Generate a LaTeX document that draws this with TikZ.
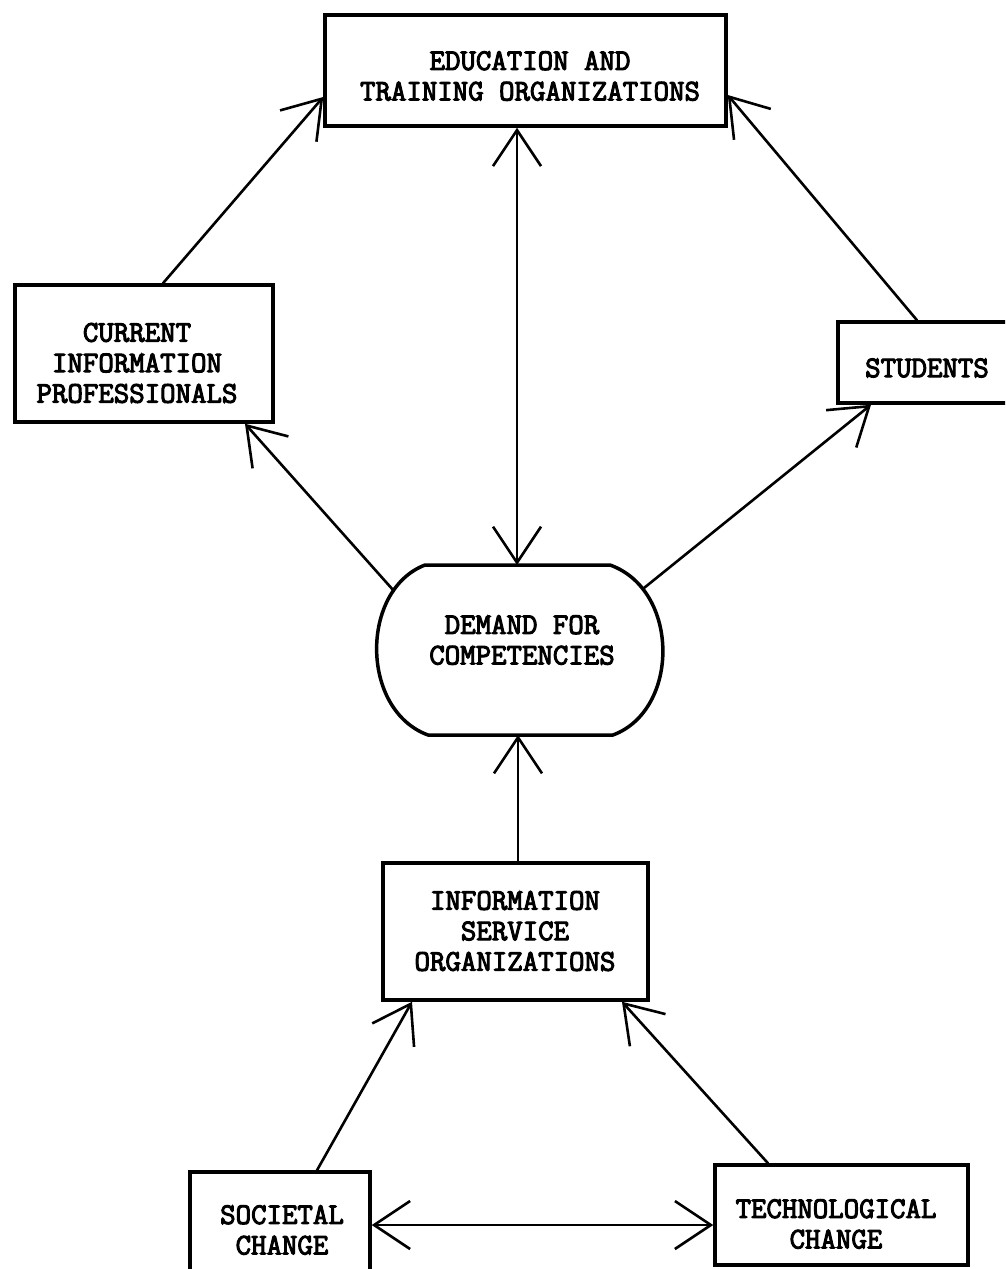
\documentclass[tikz,border=0pt]{standalone}
\usepackage{fontspec}
\newfontfamily\tw{Latin Modern Mono}[FakeBold=3.5]
\usetikzlibrary{arrows.meta}
\begin{document}
\begin{tikzpicture}[x=1pt,y=-1pt,
  box/.style={draw, line width=3.5pt, minimum width=#1, inner sep=0pt},
  txt/.style={font=\tw\fontsize{30}{30.5}\selectfont, align=center, inner sep=0pt},
  conn/.style={line width=2.6pt, line cap=round, line join=round},
  >={Straight Barb[length=36pt,width=48pt]}]
\useasboundingbox (0,0) rectangle (1005,1269);
\clip (0,0) rectangle (1005,1269);
\fill[white] (0,0) rectangle (1005,1269);
% boxes
\node[box=401pt, minimum height=111pt] (edu) at (525.5,70.5) {};
\node[box=258pt, minimum height=137pt] (cip) at (144,353.5) {};
\node[box=192pt, minimum height=81pt] (stu) at (934,362.5) {};
\node[box=265pt, minimum height=137pt] (isv) at (515.5,931.5) {};
\node[box=180pt, minimum height=118pt] (soc) at (280,1231) {};
\node[box=253pt, minimum height=100pt] (tec) at (841.5,1215) {};
% demand shape
\draw[line width=3.5pt, line join=round]
  (425,565) -- (610,565) .. controls (680,590) and (680,710) .. (613,735)
  -- (428,735) .. controls (360,710) and (360,590) .. (425,565) -- cycle;
\coordinate (dTop) at (517,565);
\coordinate (dBot) at (518,735);
\coordinate (dTL) at (394,591);
\coordinate (dTR) at (644,588);
% texts
\node[txt] (eduT) at (530,76) {EDUCATION AND\\TRAINING ORGANIZATIONS};
\node[txt] (cipT) at (137,363) {CURRENT\\INFORMATION\\PROFESSIONALS};
\node[txt] (stuT) at (927,368) {STUDENTS};
\node[txt] (demT) at (522,640) {DEMAND FOR\\COMPETENCIES};
\node[txt] (isvT) at (515,931) {INFORMATION\\SERVICE\\ORGANIZATIONS};
\node[txt] (socT) at (282,1230) {SOCIETAL\\CHANGE};
\node[txt] (tecT) at (836,1224) {TECHNOLOGICAL\\CHANGE};
% connectors
\draw[conn,->] (cip.north -| 163,0) -- (edu.west |- 0,97);
\draw[conn,->] (stu.north -| 917,0) -- (edu.east |- 0,95);
\draw[conn,<->] (edu.south -| 517,0) -- (dTop);
\draw[conn,->] (dTL) -- (cip.south -| 245,0);
\draw[conn,->] (dTR) -- (stu.south -| 871,0);
\draw[conn,->] (isv.north -| 518,0) -- (dBot);
\draw[conn,->] (soc.north -| 317,0) -- (isv.south -| 412,0);
\draw[conn,->] (tec.north -| 768,0) -- (isv.south -| 622,0);
\draw[conn,<->] (soc.east |- 0,1225) -- (tec.west |- 0,1225);
\end{tikzpicture}
\end{document}
